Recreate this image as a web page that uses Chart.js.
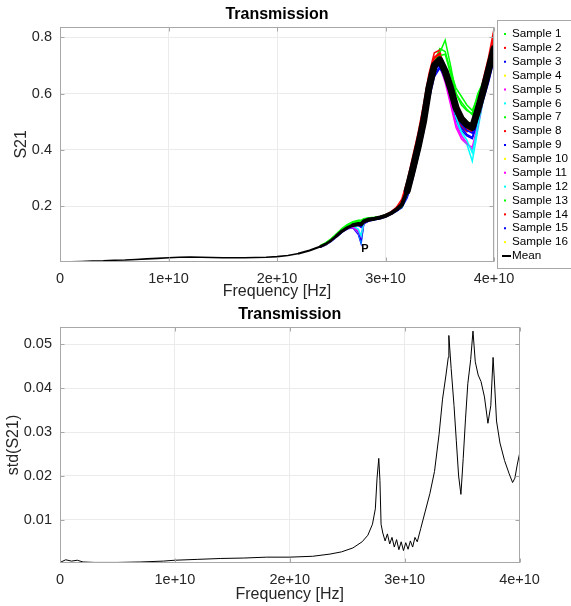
<!DOCTYPE html>
<html>
<head>
<meta charset="utf-8">
<script src="https://cdn.jsdelivr.net/npm/chart.js@4.4.0/dist/chart.umd.min.js"></script>
<style>
  body { margin: 0; background: #fff; overflow: hidden; }
  canvas { position: absolute; left: 0; }
  #s21 { top: 0; }
  #std { top: 300px; }
</style>
</head>
<body>
<canvas id="s21" width="571" height="300"></canvas>
<canvas id="std" width="571" height="306"></canvas>
<script>
// frequencies in GHz, plotted in Hz
const meanFreq = [0, 1, 2, 3, 4, 5, 6, 7, 8, 9, 10, 11, 12, 13, 14, 15, 16, 17, 18, 19, 20, 21, 22, 23,
  24, 24.5, 25, 25.5, 26, 26.5, 27, 27.5, 27.75, 28, 28.5, 29, 29.5, 30, 30.5, 31, 31.5, 32, 32.5, 33, 33.5,
  34, 34.5, 35, 35.5, 36, 36.5, 37, 37.5, 38, 38.5, 39, 39.5, 40];
const meanS21 = [0.002, 0.003, 0.004, 0.005, 0.006, 0.008, 0.009, 0.011, 0.013, 0.015, 0.017, 0.019, 0.020, 0.019,
  0.018, 0.017, 0.017, 0.017, 0.018, 0.019, 0.021, 0.025, 0.032, 0.043,
  0.057, 0.066, 0.079, 0.095, 0.112, 0.124, 0.133, 0.137, 0.136, 0.146, 0.153, 0.156, 0.160, 0.166, 0.175, 0.188,
  0.205, 0.255, 0.330, 0.410, 0.500, 0.620, 0.700, 0.720, 0.680, 0.620, 0.550, 0.510, 0.490, 0.480, 0.540, 0.610,
  0.685, 0.760];

const sampleFreq = [24, 24.5, 25, 25.5, 26, 26.5, 27, 27.5, 27.75, 28, 28.5, 29, 29.5, 30, 30.5, 31, 31.5, 32,
  32.5, 33, 33.5, 34, 34.5, 35, 35.5, 36, 36.5, 37, 37.5, 38, 38.5, 39, 39.5, 40];
const s1 = [.061,.071,.085,.103,.122,.136,.145,.150,.150,.156,.159,.161,.164,.170,.178,.184,.195,.235,.310,.395,.490,.610,.710,.760,.750,.680,.620,.590,.560,.540,.590,.630,.675,.740];
const s2 = [.058,.067,.081,.097,.114,.126,.135,.140,.138,.148,.155,.158,.163,.170,.180,.196,.225,.290,.375,.460,.560,.670,.745,.755,.670,.600,.525,.480,.465,.470,.560,.650,.730,.830];
const s3 = [.054,.063,.075,.091,.108,.120,.124,.100,.068,.138,.148,.152,.156,.162,.171,.182,.195,.230,.295,.375,.460,.575,.660,.690,.660,.595,.525,.480,.455,.445,.505,.575,.640,.720];
const s4 = [.057,.066,.079,.095,.113,.126,.136,.140,.139,.148,.154,.157,.160,.166,.174,.186,.200,.245,.315,.395,.485,.605,.690,.715,.690,.630,.560,.515,.495,.485,.540,.605,.680,.755];
const s5 = [.057,.066,.079,.095,.112,.122,.125,.105,.085,.140,.151,.154,.158,.164,.173,.186,.205,.255,.330,.410,.500,.615,.690,.700,.640,.560,.480,.440,.420,.410,.490,.585,.670,.750];
const s6 = [.057,.066,.079,.095,.112,.123,.128,.108,.075,.141,.152,.155,.159,.165,.174,.189,.212,.270,.350,.435,.530,.645,.715,.725,.670,.590,.505,.455,.420,.360,.470,.575,.660,.740];
const s7 = [.059,.069,.083,.100,.119,.133,.143,.149,.147,.154,.158,.160,.163,.168,.177,.190,.200,.245,.315,.400,.495,.615,.705,.745,.790,.700,.600,.570,.545,.525,.600,.640,.690,.750];
const s8 = [.057,.066,.080,.096,.113,.125,.134,.139,.136,.147,.154,.157,.162,.168,.178,.193,.218,.280,.360,.445,.545,.660,.730,.745,.665,.595,.520,.485,.470,.465,.555,.640,.715,.810];
const s9 = [.055,.064,.077,.093,.110,.121,.127,.110,.080,.140,.149,.153,.157,.163,.172,.184,.198,.235,.300,.380,.470,.585,.670,.695,.650,.580,.510,.470,.450,.440,.500,.580,.650,.730];
const s10 = [.058,.067,.080,.096,.114,.127,.137,.141,.140,.149,.155,.158,.161,.166,.175,.187,.202,.248,.320,.400,.490,.610,.695,.720,.695,.635,.565,.520,.500,.490,.545,.610,.685,.760];
const s11 = [.056,.065,.078,.094,.111,.121,.126,.112,.092,.141,.151,.155,.159,.165,.174,.187,.206,.258,.335,.415,.505,.620,.695,.705,.650,.570,.490,.450,.425,.400,.480,.580,.665,.745];
const s12 = [.058,.067,.080,.096,.113,.124,.130,.118,.095,.143,.153,.156,.160,.166,.175,.190,.210,.265,.345,.430,.525,.640,.710,.720,.675,.600,.515,.465,.435,.390,.485,.585,.665,.745];
const s13 = [.058,.068,.082,.099,.118,.131,.140,.146,.144,.152,.156,.159,.162,.168,.176,.186,.198,.240,.318,.400,.490,.605,.700,.735,.740,.670,.600,.560,.540,.530,.570,.620,.680,.745];
const s14 = [.056,.065,.079,.095,.112,.124,.133,.138,.135,.146,.153,.157,.161,.167,.177,.191,.212,.270,.350,.435,.530,.650,.725,.740,.675,.605,.530,.490,.475,.470,.550,.630,.705,.790];
const s15 = [.056,.065,.078,.094,.111,.123,.131,.132,.125,.143,.151,.154,.158,.164,.173,.185,.200,.240,.310,.390,.480,.595,.680,.705,.665,.600,.530,.490,.470,.460,.515,.590,.660,.735];
const s16 = [.056,.065,.078,.094,.112,.125,.135,.139,.137,.147,.153,.156,.159,.165,.174,.186,.201,.246,.318,.398,.488,.608,.692,.712,.700,.640,.570,.525,.500,.492,.548,.612,.682,.752];
const samples = [s1, s2, s3, s4, s5, s6, s7, s8, s9, s10, s11, s12, s13, s14, s15, s16];

const stdFreq = [0, 0.5, 1, 1.5, 2, 3, 5, 7, 9, 10, 12, 14, 16, 18, 20, 22, 23.5, 24.5, 25.5, 26.3, 26.8, 27.2,
  27.45, 27.6, 27.75, 27.85, 27.95, 28.1, 28.3, 28.5, 28.7, 28.9, 29.1, 29.3, 29.5, 29.7, 29.9, 30.1, 30.3, 30.5,
  30.7, 30.9, 31.1, 31.4, 31.8, 32.2, 32.6, 33, 33.3, 33.6,
  33.8, 33.85, 34.05, 34.3, 34.5, 34.7, 34.9, 35.1, 35.3, 35.5, 35.75, 35.95, 36.15, 36.4, 36.65, 36.95, 37.25,
  37.5, 37.7, 37.85, 38, 38.3, 38.7, 39.1, 39.4, 39.6, 39.8, 40];
const stdS21 = [0.0003, 0.0009, 0.0006, 0.0008, 0.0004, 0.0003, 0.0003, 0.0004, 0.0006, 0.0008, 0.0010, 0.0012,
  0.0013, 0.0015, 0.0015, 0.0017, 0.0022, 0.0027, 0.0036, 0.0050, 0.0065, 0.0090, 0.0125, 0.0195, 0.0240, 0.0190,
  0.0090, 0.0070, 0.0052, 0.0068, 0.0045, 0.0060, 0.0038, 0.0055, 0.0032, 0.0050, 0.0030, 0.0048, 0.0033, 0.0052,
  0.0038, 0.0060, 0.0050, 0.0080, 0.0120, 0.0160, 0.0210, 0.0295, 0.0375, 0.0430,
  0.0470, 0.0520, 0.0445, 0.0360, 0.0280, 0.0200, 0.0158, 0.0240, 0.0330, 0.0410, 0.0465, 0.0530, 0.0460,
  0.0430, 0.0415, 0.0380, 0.0320, 0.0360, 0.0470, 0.0400, 0.0325, 0.0275, 0.0235, 0.0205, 0.0185, 0.0195, 0.0225,
  0.0250];

const xTicks = [0, 1e10, 2e10, 3e10, 4e10];
const sampleColors = ['#00ff00', '#ff0000', '#0000ff', '#ffff00', '#ff00ff', '#00ffff'];
const pLabel = { f: 28.1, v: 0.05, text: 'P' };

Chart.defaults.font.family = '"Liberation Sans", Arial, sans-serif';
Chart.defaults.color = '#262626';

const toPoints = (freqs, vals) => vals.map((v, i) => ({ x: freqs[i] * 1e9, y: v }));
const xLabel = v => v === 0 ? '0' : (v / 1e10) + 'e+10';

// octave style box with inward ticks
const boxPlugin = {
  id: 'box',
  afterDatasetsDraw(chart) {
    const { ctx, chartArea: a, scales: { x, y } } = chart;
    const l = Math.round(a.left) + 0.5, r = Math.round(a.right) - 0.5;
    const t = Math.round(a.top) + 0.5, b = Math.round(a.bottom) - 0.5;
    ctx.save();
    ctx.strokeStyle = '#a8a8a8';
    ctx.lineWidth = 1;
    ctx.strokeRect(l, t, r - l, b - t);
    ctx.beginPath();
    x.ticks.forEach(tk => {
      const px = Math.round(x.getPixelForValue(tk.value)) + 0.5;
      ctx.moveTo(px, b); ctx.lineTo(px, b - 4);
      ctx.moveTo(px, t); ctx.lineTo(px, t + 4);
    });
    y.ticks.forEach(tk => {
      const py = Math.round(y.getPixelForValue(tk.value)) + 0.5;
      ctx.moveTo(l, py); ctx.lineTo(l + 4, py);
      ctx.moveTo(r, py); ctx.lineTo(r - 4, py);
    });
    ctx.stroke();
    ctx.restore();
  }
};

const sideLegend = {
  id: 'sideLegend',
  afterDraw(chart) {
    const ctx = chart.ctx;
    ctx.save();
    ctx.fillStyle = '#fff';
    ctx.fillRect(497.5, 20.5, 100, 248);
    ctx.strokeStyle = '#a8a8a8';
    ctx.lineWidth = 1;
    ctx.strokeRect(497.5, 20.5, 100, 248);
    ctx.font = '11.7px "Liberation Sans", Arial, sans-serif';
    ctx.textBaseline = 'middle';
    chart.data.datasets.forEach((ds, i) => {
      const y = 34 + i * 13.875;
      if (ds.label === 'Mean') {
        ctx.strokeStyle = '#000';
        ctx.lineWidth = 2;
        ctx.beginPath(); ctx.moveTo(502, y); ctx.lineTo(511, y); ctx.stroke();
      } else {
        ctx.fillStyle = ds.borderColor;
        ctx.fillRect(504, y - 1, 2, 2);
      }
      ctx.fillStyle = '#000';
      ctx.fillText(ds.label, 512, y);
    });
    // annotation
    const { x, y } = chart.scales;
    ctx.font = 'bold 11px "Liberation Sans", Arial, sans-serif';
    ctx.textAlign = 'center';
    ctx.fillText(pLabel.text, x.getPixelForValue(pLabel.f * 1e9), y.getPixelForValue(pLabel.v));
    ctx.restore();
  }
};

function axisOptions(o) {
  return {
    x: {
      type: 'linear', min: 0, max: 4e10,
      afterFit: s => { s.height = o.xHeight; },
      afterBuildTicks: s => { s.ticks = xTicks.map(v => ({ value: v })); },
      grid: { color: '#ebebeb', drawTicks: false },
      border: { display: false },
      ticks: { padding: 8, maxRotation: 0, autoSkip: false, font: { size: 14.5 }, callback: xLabel },
      title: { display: true, text: 'Frequency [Hz]', font: { size: 16, lineHeight: 1 }, padding: 0 }
    },
    y: {
      min: o.yMin, max: o.yMax,
      afterFit: s => { s.width = 60; },
      grid: { color: '#ebebeb', drawTicks: false },
      border: { display: false },
      ticks: { stepSize: o.yStep, includeBounds: false, padding: 8, font: { size: 14.5 } },
      title: { display: true, text: o.yTitle, font: { size: 16, lineHeight: 1 }, padding: { top: o.yTitlePad, bottom: 0 } }
    }
  };
}

const titleOptions = {
  display: true, text: 'Transmission', color: '#000', fullSize: false,
  font: { size: 16, weight: 'bold', lineHeight: 1.2 }, padding: { top: 5, bottom: 2.5 }
};

const s21Sets = samples.map((vals, i) => ({
  label: 'Sample ' + (i + 1),
  data: toPoints(sampleFreq, vals),
  borderColor: sampleColors[i % sampleColors.length],
  borderWidth: 1.5,
  pointRadius: 0,
  order: 17 - i
}));
s21Sets.push({
  label: 'Mean',
  data: toPoints(meanFreq, meanS21),
  borderColor: '#000',
  borderWidth: 2,
  pointRadius: 0,
  order: 0,
  borderJoinStyle: 'round',
  borderCapStyle: 'round',
  segment: {
    // the mean trace gets noisier (thicker) towards high frequency
    borderWidth: c => {
      const f = c.p0.parsed.x / 1e9;
      return f < 22 ? 1.6 : f < 24 ? 2 : f < 25.5 ? 2.6 : f < 27 ? 3.2 : f < 32 ? 4 : 7;
    }
  }
});

new Chart(document.getElementById('s21'), {
  type: 'line',
  data: { datasets: s21Sets },
  options: {
    responsive: false, animation: false, events: [],
    layout: { padding: { left: 0, right: 77, top: 0, bottom: 0 } },
    elements: { line: { tension: 0 } },
    scales: axisOptions({ xHeight: 38, yMin: 0.002, yMax: 0.838, yStep: 0.2, yTitle: 'S21', yTitlePad: 14 }),
    plugins: { legend: { display: false }, tooltip: { enabled: false }, title: titleOptions }
  },
  plugins: [boxPlugin, sideLegend]
});

new Chart(document.getElementById('std'), {
  type: 'line',
  data: {
    datasets: [{
      label: 'std(S21)',
      data: toPoints(stdFreq, stdS21),
      borderColor: '#000',
      borderWidth: 1,
      pointRadius: 0
    }]
  },
  options: {
    responsive: false, animation: false, events: [],
    layout: { padding: { left: 0, right: 51.5, top: 0, bottom: 3.5 } },
    elements: { line: { tension: 0 } },
    scales: axisOptions({ xHeight: 39.2, yMin: 0.0001, yMax: 0.054, yStep: 0.01, yTitle: 'std(S21)', yTitlePad: 6 }),
    plugins: { legend: { display: false }, tooltip: { enabled: false }, title: titleOptions }
  },
  plugins: [boxPlugin]
});
</script>
</body>
</html>
